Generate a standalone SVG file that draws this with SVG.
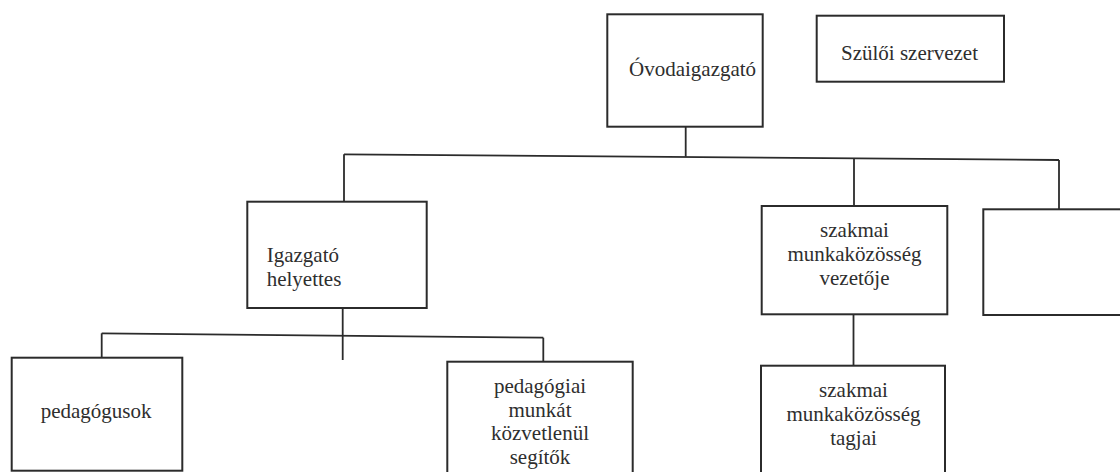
<svg xmlns="http://www.w3.org/2000/svg" width="1120" height="472" viewBox="0 0 1120 472">
<style>
.box{fill:none;stroke:#2b2b2b;stroke-width:2}
.ln{fill:none;stroke:#2b2b2b;stroke-width:1.8}
.t{font-family:"Liberation Serif","Noto Serif","DejaVu Serif",FreeSerif,Times,serif;font-size:21px;fill:#2e2e2e}
.c{text-anchor:middle}
</style>
<rect x="0" y="0" width="1120" height="472" fill="#ffffff"/>
<g id="connectors">
<line class="ln" x1="685.7" y1="127" x2="685.7" y2="156.8"/>
<line class="ln" x1="344" y1="154.3" x2="1059" y2="160"/>
<line class="ln" x1="344" y1="154.3" x2="344" y2="201.7"/>
<line class="ln" x1="854" y1="158.4" x2="854" y2="206"/>
<line class="ln" x1="1059" y1="160" x2="1059" y2="209.3"/>
<line class="ln" x1="342.7" y1="308" x2="342.7" y2="360"/>
<line class="ln" x1="101.7" y1="333.3" x2="543.3" y2="337.7"/>
<line class="ln" x1="101.7" y1="333.3" x2="101.7" y2="357.7"/>
<line class="ln" x1="543.3" y1="337.7" x2="543.3" y2="361.7"/>
<line class="ln" x1="853.5" y1="314.3" x2="853.5" y2="365.7"/>
</g>
<g id="ovodaigazgato">
<rect class="box" x="607.3" y="14.3" width="155.4" height="112.4"/>
<text class="t" x="629" y="76" font-family="Liberation Serif">Óvodaigazgató</text>
</g>
<g id="szuloi-szervezet">
<rect class="box" x="816.7" y="15.7" width="187.3" height="66"/>
<text class="t" x="841" y="59.5">Szülői szervezet</text>
</g>
<g id="igazgato-helyettes">
<rect class="box" x="247.3" y="201.7" width="179.4" height="106.3"/>
<text class="t" x="266.7" y="261.7">Igazgató</text>
<text class="t" x="266.7" y="285.7">helyettes</text>
</g>
<g id="szakmai-vezetoje">
<rect class="box" x="761.7" y="206" width="185.6" height="108.3"/>
<text class="t c" x="854.5" y="237">szakmai</text>
<text class="t c" x="854.5" y="261">munkaközösség</text>
<text class="t c" x="854.5" y="285">vezetője</text>
</g>
<g id="ures-doboz">
<rect class="box" x="983.3" y="209.3" width="160" height="105.7"/>
</g>
<g id="pedagogusok">
<rect class="box" x="11.7" y="357.7" width="170.6" height="113"/>
<text class="t" x="40.7" y="418.3">pedagógusok</text>
</g>
<g id="pedagogiai-segitok">
<rect class="box" x="447.3" y="361.7" width="185.4" height="130"/>
<text class="t c" x="540" y="393">pedagógiai</text>
<text class="t c" x="540" y="416.5">munkát</text>
<text class="t c" x="540" y="440">közvetlenül</text>
<text class="t c" x="540" y="463.5">segítők</text>
</g>
<g id="szakmai-tagjai">
<rect class="box" x="761" y="365.7" width="184" height="130"/>
<text class="t c" x="853.5" y="396.7">szakmai</text>
<text class="t c" x="853.5" y="421">munkaközösség</text>
<text class="t c" x="853.5" y="445">tagjai</text>
</g>
</svg>
